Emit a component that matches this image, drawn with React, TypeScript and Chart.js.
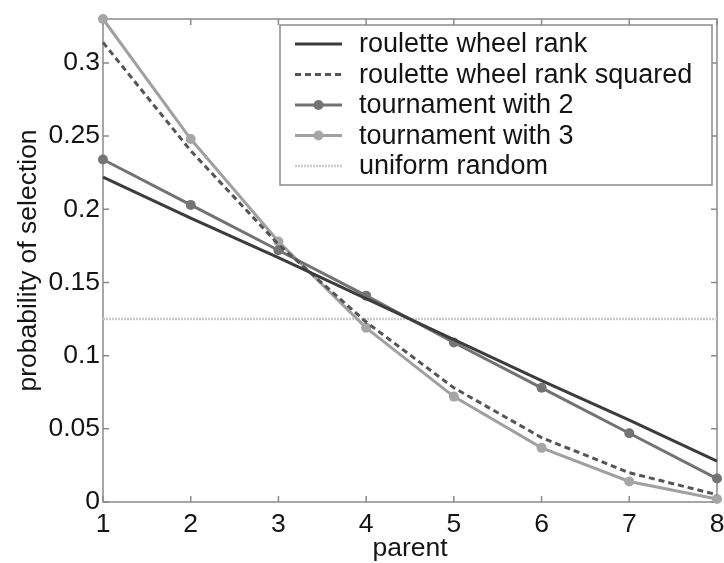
import React, { useEffect, useRef } from 'react';
import { Chart, registerables } from 'chart.js';

Chart.register(...registerables);

const parents = [1, 2, 3, 4, 5, 6, 7, 8];
const seriesLabels = [
  'roulette wheel rank',
  'roulette wheel rank squared',
  'tournament with 2',
  'tournament with 3',
  'uniform random',
];
const rouletteRank = [0.222, 0.194, 0.167, 0.139, 0.111, 0.083, 0.056, 0.028];
const rouletteRankSquared = [0.314, 0.240, 0.176, 0.123, 0.078, 0.044, 0.020, 0.005];
const tournament2 = [0.234, 0.203, 0.172, 0.141, 0.109, 0.078, 0.047, 0.016];
const tournament3 = [0.330, 0.248, 0.178, 0.119, 0.072, 0.037, 0.014, 0.002];
const uniformRandom = [0.125, 0.125, 0.125, 0.125, 0.125, 0.125, 0.125, 0.125];
const yTickValues = [0, 0.05, 0.1, 0.15, 0.2, 0.25, 0.3];
const xTitle = 'parent';
const yTitle = 'probability of selection';

const FONT = "'Liberation Sans', Arial, Helvetica, sans-serif";
const FONT_SIZE = 26.5;
const LEGEND_FONT_SIZE = 27;

const toPoints = (vals: number[]) => vals.map((v, i) => ({ x: parents[i], y: v }));

const framePlugin = {
  id: 'frame',
  beforeDatasetsDraw(chart: any) {
    const { ctx, chartArea, scales } = chart;
    const { left, right, top, bottom } = chartArea;
    const x = scales.x;
    const y = scales.y;
    ctx.save();
    ctx.strokeStyle = '#8a8a8a';
    ctx.lineWidth = 1.5;
    ctx.strokeRect(left, top, right - left, bottom - top);
    const tl = 6;
    ctx.beginPath();
    x.ticks.forEach((t: any) => {
      const px = x.getPixelForValue(t.value);
      ctx.moveTo(px, bottom);
      ctx.lineTo(px, bottom - tl);
      ctx.moveTo(px, top);
      ctx.lineTo(px, top + tl);
    });
    y.ticks.forEach((t: any) => {
      const py = y.getPixelForValue(t.value);
      ctx.moveTo(left, py);
      ctx.lineTo(left + tl, py);
      ctx.moveTo(right, py);
      ctx.lineTo(right - tl, py);
    });
    ctx.stroke();
    ctx.restore();
  },
};

const legendPlugin = {
  id: 'boxLegend',
  afterDatasetsDraw(chart: any) {
    const { ctx, chartArea } = chart;
    const boxW = 432;
    const boxH = 160;
    const bx = chartArea.right - 5 - boxW;
    const by = chartArea.top + 6;
    ctx.save();
    ctx.fillStyle = '#ffffff';
    ctx.fillRect(bx, by, boxW, boxH);
    ctx.strokeStyle = '#8a8a8a';
    ctx.lineWidth = 1.5;
    ctx.strokeRect(bx, by, boxW, boxH);
    const rowH = 30.5;
    const lineX0 = bx + 15;
    const lineX1 = bx + 62;
    const textX = bx + 79;
    ctx.font = `${LEGEND_FONT_SIZE}px ${FONT}`;
    ctx.textBaseline = 'middle';
    ctx.textAlign = 'left';
    chart.data.datasets.forEach((ds: any, i: number) => {
      const cy = by + 19 + i * rowH;
      ctx.save();
      ctx.strokeStyle = ds.borderColor;
      ctx.lineWidth = ds.borderWidth;
      ctx.setLineDash(ds.borderDash || []);
      ctx.beginPath();
      ctx.moveTo(lineX0, cy);
      ctx.lineTo(lineX1, cy);
      ctx.stroke();
      ctx.setLineDash([]);
      if (ds.pointRadius > 0) {
        ctx.fillStyle = ds.pointBackgroundColor;
        ctx.beginPath();
        ctx.arc((lineX0 + lineX1) / 2, cy, ds.pointRadius, 0, Math.PI * 2);
        ctx.fill();
      }
      ctx.restore();
      ctx.fillStyle = '#141414';
      ctx.fillText(ds.label, textX, cy + 1);
    });
    ctx.restore();
  },
};

export default function App() {
  const canvasRef = useRef<HTMLCanvasElement | null>(null);

  useEffect(() => {
    document.body.style.margin = '0';
    const canvas = canvasRef.current;
    if (!canvas) return;
    const chart = new Chart(canvas, {
      type: 'line',
      data: {
        datasets: [
          {
            label: seriesLabels[0],
            data: toPoints(rouletteRank),
            borderColor: '#3c3c3c',
            borderWidth: 3,
            pointRadius: 0,
            clip: false,
          },
          {
            label: seriesLabels[1],
            data: toPoints(rouletteRankSquared),
            borderColor: '#555555',
            borderWidth: 3,
            borderDash: [6, 4],
            pointRadius: 0,
            clip: false,
          },
          {
            label: seriesLabels[2],
            data: toPoints(tournament2),
            borderColor: '#727272',
            borderWidth: 3,
            pointRadius: 5,
            pointBackgroundColor: '#747474',
            pointBorderColor: '#747474',
            pointBorderWidth: 0,
            clip: false,
          },
          {
            label: seriesLabels[3],
            data: toPoints(tournament3),
            borderColor: '#a0a0a0',
            borderWidth: 3,
            pointRadius: 5,
            pointBackgroundColor: '#a6a6a6',
            pointBorderColor: '#a6a6a6',
            pointBorderWidth: 0,
            clip: false,
          },
          {
            label: seriesLabels[4],
            data: toPoints(uniformRandom),
            borderColor: '#cccccc',
            borderWidth: 2.5,
            borderDash: [2, 1],
            pointRadius: 0,
            clip: false,
          },
        ] as any,
      },
      options: {
        responsive: false,
        animation: false,
        devicePixelRatio: 1,
        layout: { padding: { top: 19, right: 7, left: 0, bottom: 0 } },
        plugins: {
          legend: { display: false },
          tooltip: { enabled: false },
        },
        scales: {
          x: {
            type: 'linear',
            min: 1,
            max: 8,
            grid: { display: false, drawTicks: false },
            border: { display: false },
            ticks: {
              stepSize: 1,
              padding: 7,
              color: '#141414',
              font: { family: FONT, size: FONT_SIZE },
              maxRotation: 0,
            },
            title: {
              display: true,
              text: xTitle,
              color: '#141414',
              font: { family: FONT, size: FONT_SIZE },
              padding: { top: 0, bottom: -2 },
            },
            afterFit: (scale: any) => {
              scale.height = 61;
              scale.paddingLeft = 0;
              scale.paddingRight = 0;
            },
          },
          y: {
            type: 'linear',
            min: 0,
            max: 0.33,
            grid: { display: false, drawTicks: false },
            border: { display: false },
            afterBuildTicks: (scale: any) => {
              scale.ticks = yTickValues.map((v) => ({ value: v }));
            },
            ticks: {
              stepSize: 0.05,
              padding: 3,
              color: '#141414',
              font: { family: FONT, size: FONT_SIZE },
              callback: (v: any) => String(Number(Number(v).toFixed(2))),
            },
            title: {
              display: true,
              text: yTitle,
              color: '#141414',
              font: { family: FONT, size: FONT_SIZE },
              padding: { top: 13, bottom: 0 },
            },
            afterFit: (scale: any) => {
              scale.width = 103;
              scale.paddingTop = 0;
              scale.paddingBottom = 0;
            },
          },
        },
      } as any,
      plugins: [framePlugin, legendPlugin],
    });
    return () => chart.destroy();
  }, []);

  return (
    <div style={{ position: 'absolute', left: 0, top: 0, width: 724, height: 563, background: '#fff' }}>
      <canvas ref={canvasRef} width={724} height={563} />
    </div>
  );
}
